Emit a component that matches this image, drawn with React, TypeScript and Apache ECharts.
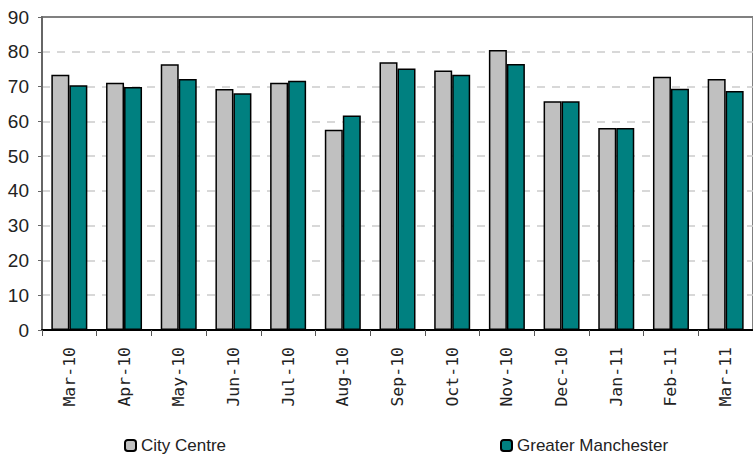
import React, { useEffect, useRef } from "react";
import * as echarts from "echarts";

const categories = ["Mar-10", "Apr-10", "May-10", "Jun-10", "Jul-10", "Aug-10", "Sep-10", "Oct-10", "Nov-10", "Dec-10", "Jan-11", "Feb-11", "Mar-11"];
const cityCentre = [73.4, 71.1, 76.4, 69.3, 71.1, 57.6, 77.0, 74.6, 80.5, 65.8, 58.1, 72.8, 72.2];
const greaterManchester = [70.4, 69.9, 72.2, 68.1, 71.7, 61.7, 75.2, 73.4, 76.5, 65.8, 58.1, 69.4, 68.7];

const sans = "'Liberation Sans', Arial, sans-serif";
const gridColors = ["#cccccc", "#cccccc", "#cccccc", "#cccccc", "#cccccc", "#cccccc", "#cccccc", "#cccccc", "#cccccc", "#808080"];

export default function App() {
  const ref = useRef<HTMLDivElement>(null);
  useEffect(() => {
    document.body.style.margin = "0";
    const chart = echarts.init(ref.current!, null, { renderer: "svg" });
    chart.setOption({
      animation: false,
      backgroundColor: "#ffffff",
      grid: {
        left: 42,
        right: 0,
        top: 17,
        bottom: 127,
        show: true,
        borderColor: "#808080",
        borderWidth: 2,
      },
      legend: [
        {
          left: 124,
          top: 437,
          padding: 0,
          itemWidth: 11,
          itemHeight: 11,
          data: ["City Centre"],
          textStyle: { fontFamily: sans, fontSize: 17, color: "#222" },
        },
        {
          left: 500,
          top: 437,
          padding: 0,
          itemWidth: 11,
          itemHeight: 11,
          data: ["Greater Manchester"],
          textStyle: { fontFamily: sans, fontSize: 17, color: "#222" },
        },
      ],
      xAxis: {
        type: "category",
        data: categories,
        axisLine: { lineStyle: { color: "#000", width: 2 } },
        axisTick: { show: true, length: 6, lineStyle: { color: "#555" } },
        axisLabel: {
          rotate: 90,
          margin: 17,
          fontFamily: "'DejaVu Sans Mono', monospace",
          fontSize: 16.5,
          color: "#222",
        },
      },
      yAxis: {
        type: "value",
        min: 0,
        max: 90,
        interval: 10,
        axisLine: { show: true, lineStyle: { color: "#666", width: 2 } },
        axisTick: { show: true, length: 4, lineStyle: { color: "#666" } },
        axisLabel: { margin: 13, fontFamily: sans, fontSize: 19, color: "#222" },
        splitLine: { lineStyle: { color: gridColors, type: [8, 7], width: 1.5 } },
      },
      series: [
        {
          name: "City Centre",
          type: "bar",
          data: cityCentre,
          barWidth: 18,
          barGap: "0%",
          itemStyle: { color: "#c0c0c0", borderColor: "#000", borderWidth: 1.5 },
        },
        {
          name: "Greater Manchester",
          type: "bar",
          data: greaterManchester,
          barWidth: 18,
          barGap: "0%",
          itemStyle: { color: "#008080", borderColor: "#000", borderWidth: 1.5 },
        },
      ],
    });
    return () => chart.dispose();
  }, []);
  return <div ref={ref} style={{ width: 753, height: 457 }} />;
}
